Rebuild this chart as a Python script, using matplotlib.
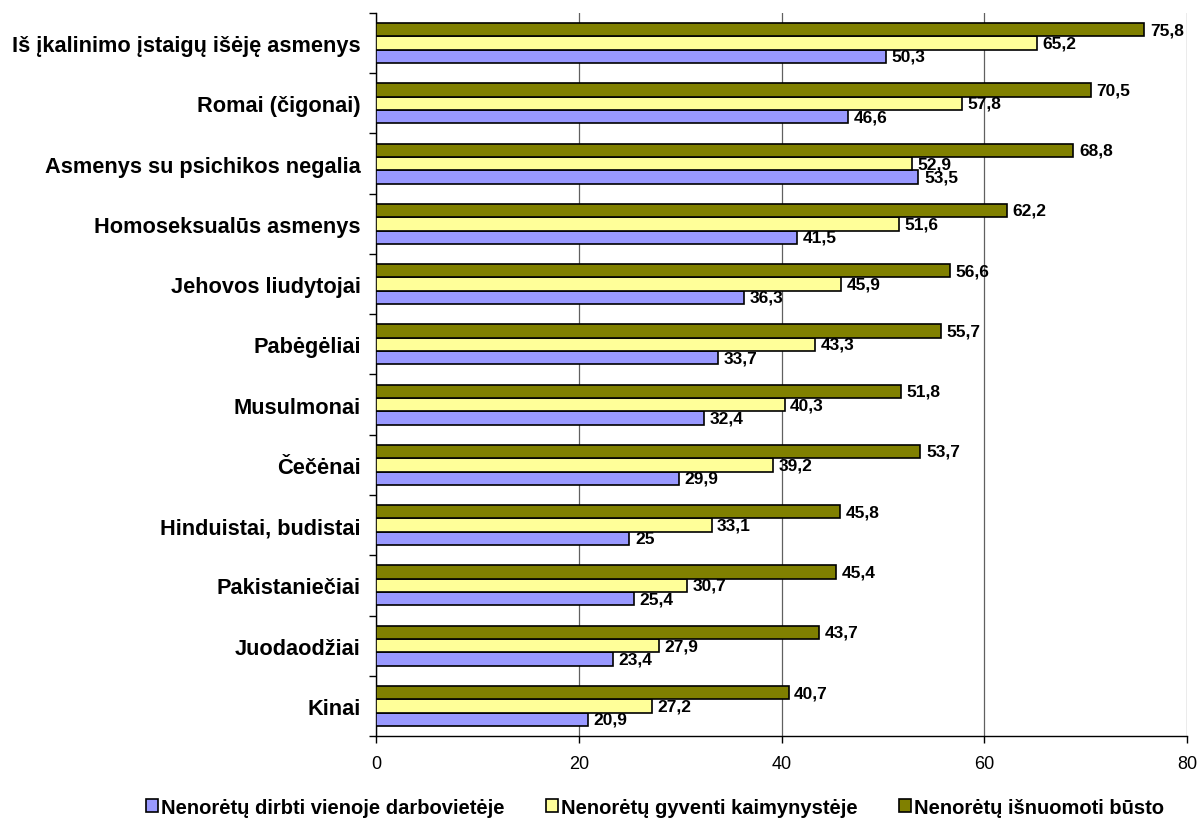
import numpy as np
import matplotlib.pyplot as plt
from matplotlib.patches import Patch

plt.rcParams['font.family'] = ['Liberation Sans', 'DejaVu Sans']

# Duomenys (iš viršaus į apačią)
kategorijos = ['Iš įkalinimo įstaigų išėję asmenys', 'Romai (čigonai)',
               'Asmenys su psichikos negalia', 'Homoseksualūs asmenys',
               'Jehovos liudytojai', 'Pabėgėliai', 'Musulmonai', 'Čečėnai',
               'Hinduistai, budistai', 'Pakistaniečiai', 'Juodaodžiai', 'Kinai']
dirbti = [50.3, 46.6, 53.5, 41.5, 36.3, 33.7, 32.4, 29.9, 25, 25.4, 23.4, 20.9]
gyventi = [65.2, 57.8, 52.9, 51.6, 45.9, 43.3, 40.3, 39.2, 33.1, 30.7, 27.9, 27.2]
isnuomoti = [75.8, 70.5, 68.8, 62.2, 56.6, 55.7, 51.8, 53.7, 45.8, 45.4, 43.7, 40.7]
serijos = ['Nenorėtų dirbti vienoje darbovietėje', 'Nenorėtų gyventi kaimynystėje',
           'Nenorėtų išnuomoti būsto']
spalvos = ['#9999FF', '#FFFF99', '#808000']

fig = plt.figure(figsize=(11.99, 8.2), dpi=100)
ax = fig.add_axes([0.3136, 0.1012, 0.6764, 0.8818])

n = len(kategorijos)
y = np.arange(n)[::-1]  # pirmoji kategorija viršuje
h = 0.222
# apačioje mėlyna, viduryje geltona, viršuje alyvinė
for i, (vals, col) in enumerate(zip([dirbti, gyventi, isnuomoti], spalvos)):
    pos = y + (i - 1) * h
    ax.barh(pos, vals, height=h, color=col, edgecolor='black', linewidth=1.2, zorder=3)
    for p, v in zip(pos, vals):
        txt = ('%g' % v).replace('.', ',')
        ax.text(v + 0.55, p, txt, va='center', ha='left',
                fontsize=12.5, fontweight='bold', zorder=4)

ax.set_xlim(0, 80)
ax.set_ylim(-0.5, n - 0.5)
ax.set_xticks([0, 20, 40, 60, 80])
ax.tick_params(axis='x', labelsize=13, length=5, width=1, direction='out', pad=9)
ax.xaxis.grid(True, color='#606060', linewidth=0.9, zorder=0)

ax.set_yticks(y)
ax.set_yticklabels(kategorijos, fontsize=15.7, fontweight='bold')
ax.set_yticks(np.arange(-0.5, n, 1), minor=True)
ax.tick_params(axis='y', which='major', length=0, pad=11)
ax.tick_params(axis='y', which='minor', length=5, width=1, direction='out')

for s in ['top', 'right']:
    ax.spines[s].set_visible(False)
ax.spines['left'].set_linewidth(1)
ax.spines['bottom'].set_linewidth(1)

handles = [Patch(facecolor=c, edgecolor='black', linewidth=1.2) for c in spalvos]
fig.legend(handles, serijos, loc='center', bbox_to_anchor=(0.546, 0.0146),
           ncol=3, frameon=False, handlelength=0.6, handleheight=0.6,
           handletextpad=0.15, columnspacing=2.05,
           prop={'size': 14.5, 'weight': 'bold'})

fig.savefig('out.png', dpi=100)
